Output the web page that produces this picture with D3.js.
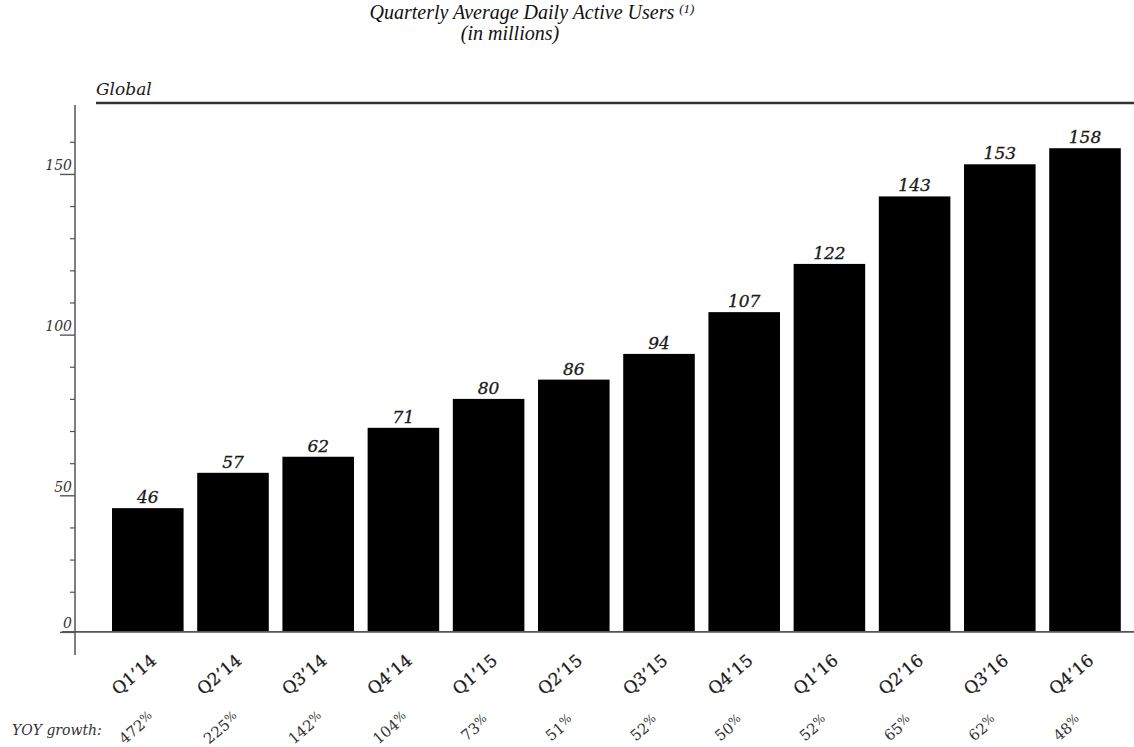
<!DOCTYPE html>
<html>
<head>
<meta charset="utf-8">
<script src="https://cdn.jsdelivr.net/npm/d3@7"></script>
<style>
  body { margin: 0; background: #fff; }
  svg { display: block; }
</style>
</head>
<body>
<svg id="chart" width="1134" height="747"></svg>
<script>
// Quarterly average daily active users, global (millions)
const quarters = ["Q1\u201914", "Q2\u201914", "Q3\u201914", "Q4\u201914",
                  "Q1\u201915", "Q2\u201915", "Q3\u201915", "Q4\u201915",
                  "Q1\u201916", "Q2\u201916", "Q3\u201916", "Q4\u201916"];
const dau = [46, 57, 62, 71, 80, 86, 94, 107, 122, 143, 153, 158];
const yoyGrowth = [472, 225, 142, 104, 73, 51, 52, 50, 52, 65, 62, 48];
const majorTicks = [50, 100, 150];
const minorTicks = [20, 30, 40, 60, 70, 80, 90, 110, 120, 130, 140, 160];
// the value axis is drawn from a floor just above zero, labelled "0"
const axisFloor = 7.5;

const svg = d3.select("#chart");
const serif = "'DejaVu Serif', serif";
const times = "'Liberation Serif', 'Times New Roman', serif";
const ink = "#1a1a1a";

const x = d3.scaleBand()
  .domain(quarters)
  .range([105.2, 1127.6])
  .paddingInner(0.16)
  .paddingOuter(0.08);

const y = d3.scaleLinear()
  .domain([0, 160])
  .range([656, 141.8]);

const baseY = y(axisFloor);

// titles
const title = svg.append("text")
  .attr("x", 532).attr("y", 19)
  .attr("text-anchor", "middle")
  .style("font-family", times)
  .style("font-style", "italic")
  .style("font-size", "20px")
  .attr("fill", "#111");
title.append("tspan").text("Quarterly Average Daily Active Users ");
title.append("tspan").attr("dy", "-0.45em").style("font-size", "13px").text("(1)");

svg.append("text")
  .attr("x", 510).attr("y", 40)
  .attr("text-anchor", "middle")
  .style("font-family", times)
  .style("font-style", "italic")
  .style("font-size", "20px")
  .attr("fill", "#111")
  .text("(in millions)");

svg.append("text")
  .attr("x", 96).attr("y", 95)
  .style("font-family", serif)
  .style("font-style", "italic")
  .style("font-size", "17px")
  .attr("fill", ink)
  .text("Global");

svg.append("line")
  .attr("x1", 96).attr("x2", 1134)
  .attr("y1", 103).attr("y2", 103)
  .attr("stroke", "#333").attr("stroke-width", 2.5);

// bars
svg.append("g").selectAll("rect")
  .data(dau)
  .join("rect")
  .attr("x", (d, i) => x(quarters[i]))
  .attr("width", x.bandwidth())
  .attr("y", d => y(d))
  .attr("height", d => baseY - y(d))
  .attr("fill", "#000");

// value labels
svg.append("g").selectAll("text")
  .data(dau)
  .join("text")
  .attr("x", (d, i) => x(quarters[i]) + x.bandwidth() / 2)
  .attr("y", d => y(d) - 5)
  .attr("text-anchor", "middle")
  .style("font-family", serif)
  .style("font-style", "italic")
  .style("font-size", "17px")
  .attr("fill", ink)
  .attr("stroke", ink).attr("stroke-width", 0.3)
  .text(d => d);

// y axis: minor ticks
svg.append("g")
  .attr("transform", "translate(75,0)")
  .call(d3.axisLeft(y).tickValues(minorTicks).tickSize(5).tickFormat(""))
  .call(g => g.select(".domain").remove())
  .call(g => g.selectAll("line").attr("stroke", "#555").attr("stroke-width", 1.2));

// y axis: major ticks with labels sitting above the tick line
svg.append("g")
  .attr("transform", "translate(75,0)")
  .call(d3.axisLeft(y)
    .tickValues([axisFloor, ...majorTicks])
    .tickSize(15)
    .tickFormat(d => d === axisFloor ? "0" : d))
  .call(g => g.select(".domain").remove())
  .call(g => g.selectAll("line").attr("stroke", "#555").attr("stroke-width", 1.4))
  .call(g => g.selectAll("text")
    .attr("x", -3)
    .attr("dy", "-0.3em")
    .style("font-family", serif)
    .style("font-style", "italic")
    .style("font-size", "14px")
    .attr("fill", "#333"));

svg.append("line")
  .attr("x1", 75).attr("x2", 75)
  .attr("y1", 105).attr("y2", 655)
  .attr("stroke", "#555").attr("stroke-width", 1.5);

svg.append("line")
  .attr("x1", 62).attr("x2", 1134)
  .attr("y1", baseY).attr("y2", baseY)
  .attr("stroke", "#555").attr("stroke-width", 1.6);

// quarter labels
svg.append("g").selectAll("text")
  .data(quarters)
  .join("text")
  .attr("transform", d => `translate(${x(d) + x.bandwidth() / 2 - 10},679) rotate(-40)`)
  .attr("text-anchor", "middle")
  .style("font-family", serif)
  .style("font-size", "17px")
  .attr("fill", ink)
  .attr("stroke", ink).attr("stroke-width", 0.25)
  .text(d => d);

// YOY growth row
svg.append("text")
  .attr("x", 12).attr("y", 735)
  .style("font-family", serif)
  .style("font-style", "italic")
  .style("font-size", "14px")
  .attr("fill", "#333")
  .text("YOY growth:");

const growth = svg.append("g").selectAll("text")
  .data(yoyGrowth)
  .join("text")
  .attr("transform", (d, i) => `translate(${x(quarters[i]) + x.bandwidth() / 2 - 8 - i * 0.6},732) rotate(-40)`)
  .attr("text-anchor", "middle")
  .style("font-family", serif)
  .style("font-size", "15px")
  .attr("fill", "#333");
growth.append("tspan").text(d => d);
growth.append("tspan").attr("dy", "-0.3em").style("font-size", "12px").text("%");
</script>
</body>
</html>
